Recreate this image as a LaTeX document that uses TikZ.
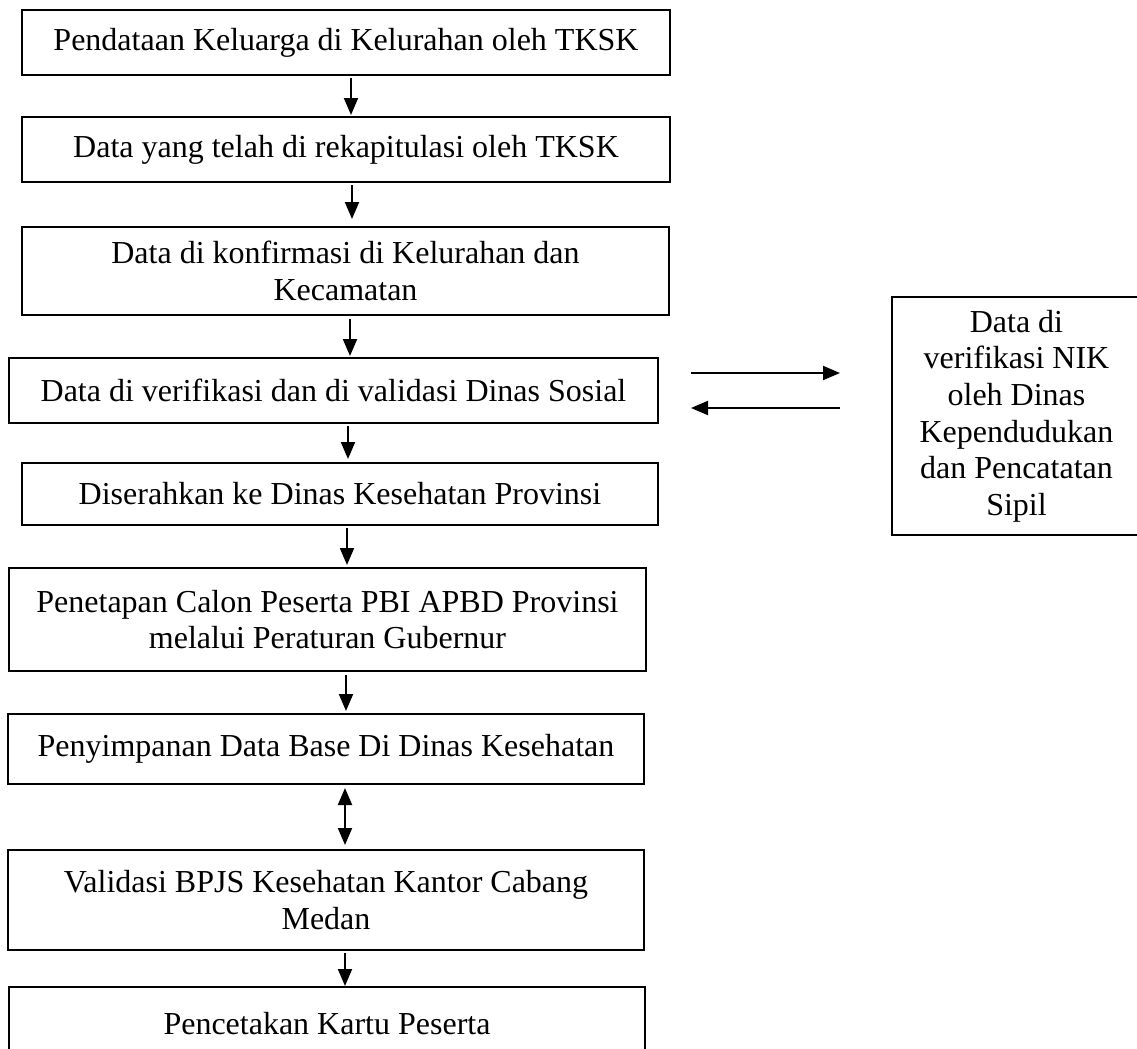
\documentclass[tikz,border=0pt]{standalone}
\usepackage{fontspec}
\setmainfont{Liberation Serif}
\usetikzlibrary{arrows.meta,calc}
\tikzset{
  flowbox/.style 2 args={draw, line width=1pt, inner sep=0pt, align=center,
    font=\fontsize{16}{18.3}\selectfont,
    minimum width=#1*0.5pt, minimum height=#2*0.5pt},
  arr/.style={line width=1pt, -{Triangle[length=8.5pt,width=7pt]}},
  dblarr/.style={line width=1pt, {Triangle[length=8.5pt,width=7pt]}-{Triangle[length=8.5pt,width=7pt]}}
}
\begin{document}
\begin{tikzpicture}[x=0.5pt, y=-0.5pt]
\useasboundingbox (0,0) rectangle (1137,1049);
\clip (0,0) rectangle (1137,1049);
\fill[white] (0,0) rectangle (1137,1049);

% main process column
\node[flowbox={648}{65}]  (b1) at (346,42.5)   {Pendataan Keluarga di Kelurahan oleh TKSK};
\node[flowbox={648}{65}]  (b2) at (346,149.5)  {Data yang telah di rekapitulasi oleh TKSK};
\node[flowbox={647}{88}]  (b3) at (345.5,271)  {Data di konfirmasi di Kelurahan dan\\Kecamatan};
\node[flowbox={649}{65}]  (b4) at (333.5,390.5){Data di verifikasi dan di validasi Dinas Sosial};
\node[flowbox={636}{62}]  (b5) at (340,494)    {Diserahkan ke Dinas Kesehatan Provinsi};
\node[flowbox={637}{103}] (b6) at (327.5,619.5){Penetapan Calon Peserta PBI APBD Provinsi\\melalui Peraturan Gubernur};
\node[flowbox={636}{70}]  (b7) at (326,749)    {Penyimpanan Data Base Di Dinas Kesehatan};
\node[flowbox={636}{100}] (b8) at (326,900)    {Validasi BPJS Kesehatan Kantor Cabang\\Medan};
\node[flowbox={636}{73}]  (b9) at (327,1023.5) {Pencetakan Kartu Peserta};

% side box
\node[flowbox={249}{238}] (rb) at (1016.5,416)
  {Data di\\verifikasi NIK\\oleh Dinas\\Kependudukan\\dan Pencatatan\\Sipil};

% vertical connectors (each at its own x, small gaps to the boxes)
\draw[arr] ($(b1.south -| 351,0)+(0,2)$) -- ($(b2.north -| 351,0)+(0,-1)$);
\draw[arr] ($(b2.south -| 352,0)+(0,2)$) -- ($(b3.north -| 352,0)+(0,-7)$);
\draw[arr] ($(b3.south -| 350,0)+(0,3)$) -- ($(b4.north -| 350,0)+(0,-1)$);
\draw[arr] ($(b4.south -| 348,0)+(0,2)$) -- ($(b5.north -| 348,0)+(0,-3)$);
\draw[arr] ($(b5.south -| 347,0)+(0,2)$) -- ($(b6.north -| 347,0)+(0,-2)$);
\draw[arr] ($(b6.south -| 346,0)+(0,3)$) -- ($(b7.north -| 346,0)+(0,-2)$);
\draw[dblarr] ($(b7.south -| 345,0)+(0,3)$) -- ($(b8.north -| 345,0)+(0,-4)$);
\draw[arr] ($(b8.south -| 345,0)+(0,2)$) -- ($(b9.north -| 345,0)+(0,0)$);

% exchange with the side box
\coordinate (h1s) at (691,373);
\coordinate (h1e) at (840,373);
\coordinate (h2s) at (840,408);
\coordinate (h2e) at (691,408);
\draw[arr] (h1s) -- (h1e);
\draw[arr] (h2s) -- (h2e);
\end{tikzpicture}
\end{document}
